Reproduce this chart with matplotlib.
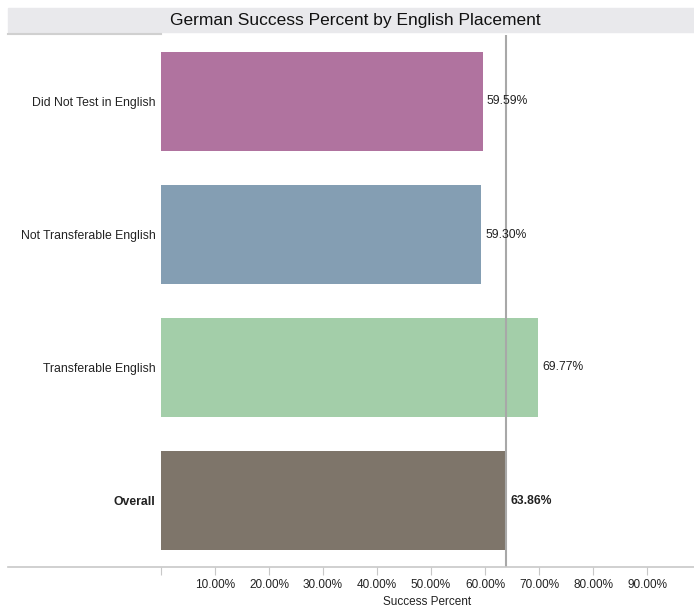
import matplotlib.pyplot as plt
from matplotlib.patches import Rectangle
from matplotlib.lines import Line2D

plt.rcParams['font.family'] = ['Liberation Sans', 'DejaVu Sans']

categories = ["Did Not Test in English", "Not Transferable English", "Transferable English", "Overall"]
success = [0.5959, 0.5930, 0.6977, 0.6386]
colors = ["#B0739F", "#849EB3", "#A3CEA9", "#7E756A"]
overall_ref = 0.6386
tick_vals = [0.0, 0.1, 0.2, 0.3, 0.4, 0.5, 0.6, 0.7, 0.8, 0.9]

W, H = 694, 611
fig = plt.figure(figsize=(W / 100, H / 100), dpi=100)
ax = fig.add_axes([161 / W, (H - 567) / H, (694 - 161) / W, (567 - 35) / H])

y = list(range(len(categories)))
ax.barh(y, success, height=0.75, color=colors, edgecolor="none")
ax.set_ylim(len(categories) - 0.5, -0.5)
ax.set_xlim(0, 533 / 540)

ax.axvline(overall_ref, color="#A8A8A8", lw=1.5, zorder=3)

for i, (v, cat) in enumerate(zip(success, categories)):
    bold = cat == "Overall"
    ax.annotate(f"{v * 100:.2f}%", (v, i), xytext=(3, 0), textcoords="offset points",
                va="center", ha="left", fontsize=8.7, color="#222222",
                fontweight="bold" if bold else "normal", zorder=4)

ax.set_yticks(y)
ax.set_yticklabels(categories, fontsize=8.8, color="#222222")
for lbl in ax.get_yticklabels():
    if lbl.get_text() == "Overall":
        lbl.set_fontweight("bold")
ax.tick_params(axis="y", length=0, pad=4)

ax.set_xticks(tick_vals)
ax.set_xticklabels(["" if t == 0 else f"{t * 100:.2f}%" for t in tick_vals], fontsize=8.5, color="#222222")
ax.tick_params(axis="x", length=6, color="#C8C8C8", width=0.8, pad=3)
ax.set_xlabel("Success Percent", fontsize=8.5, color="#222222", labelpad=3)

for s in ["top", "right", "left", "bottom"]:
    ax.spines[s].set_visible(False)

# title band
fig.patches.append(Rectangle((8 / W, (H - 32) / H), (W - 8) / W, 24 / H,
                             transform=fig.transFigure, color="#E9E9EC", zorder=0))
fig.text(355 / W, (H - 20) / H, "German Success Percent by English Placement",
         ha="center", va="center", fontsize=12.5, color="#111111")

# header rule and bottom axis rule
fig.add_artist(Line2D([8 / W, 161 / W], [(H - 34) / H] * 2, color="#D0D0D0", lw=1.5))
fig.add_artist(Line2D([8 / W, 1.0], [(H - 567) / H] * 2, color="#C8C8C8", lw=1.2))

fig.savefig("out.png", dpi=100)
